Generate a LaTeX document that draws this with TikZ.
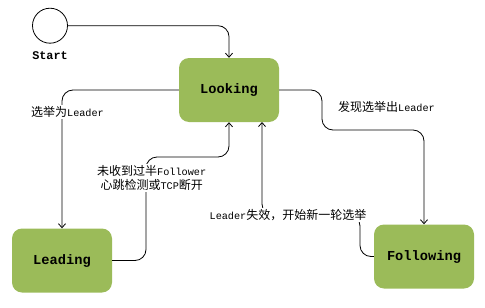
\documentclass[tikz,border=0pt]{standalone}
\usepackage{fontspec}
\setmainfont{Liberation Mono}
\newfontfamily\cjk{Noto Sans CJK SC}
\newfontfamily\mono{Liberation Mono}
\usetikzlibrary{arrows.meta}
\definecolor{stategreen}{RGB}{155,187,89}
\tikzset{
  statebox/.style={fill=stategreen, rounded corners=10pt, minimum width=100pt, minimum height=64pt, inner sep=0pt, font=\mono\bfseries\fontsize{13.7}{16}\selectfont},
  conn/.style={draw=black, line width=0.8pt, rounded corners=11pt, -{Straight Barb[length=4pt,width=7pt]}},
  lbl/.style={inner sep=1pt, font=\fontsize{10.2}{14.3}\selectfont, align=center},
  lblw/.style={lbl, fill=white},
}
\newcommand{\zh}[1]{{\cjk\fontsize{12}{14.3}\selectfont #1}}
\begin{document}
\begin{tikzpicture}[x=1pt,y=-1pt]
\useasboundingbox (0,0) rectangle (485,308);
\node[circle, draw=black, line width=0.8pt, minimum size=35pt, inner sep=0pt] (start) at (50,25.7) {};
\node[font=\mono\bfseries\fontsize{11.8}{14}\selectfont] (startlbl) at (50,55.7) {Start};
\node[statebox] (looking) at (229,90) {Looking};
\node[statebox] (leading) at (62,260.5) {Leading};
\node[statebox] (following) at (424,256.5) {Following};
\coordinate (c1) at (229,25.7);
\draw[conn] (start.east) -- (c1) -- (looking.north);
% Looking -> Leading
\coordinate (c2) at (62,90);
\draw[conn] (looking.west) -- (c2) -- (leading.north);
\node[lblw] (l1) at (67.5,112) {\zh{选举为}Leader};
% Looking -> Following
\coordinate (c3) at (322,90);
\coordinate (c4) at (322,130);
\coordinate (c5) at (424,130);
\draw[conn] (looking.east) -- (c3) -- (c4) -- (c5) -- (following.north);
\node[lbl] (l2) at (386.5,107) {\zh{发现选举出}Leader};
% Leading -> Looking
\coordinate (c6) at (146,260.5);
\coordinate (c7) at (146,157);
\coordinate (c8) at (229,157);
\draw[conn] (leading.east) -- (c6) -- (c7) -- (c8) -- (looking.south);
\node[lblw] (l3) at (151.7,178) {\zh{未收到过半}Follower\\\zh{心跳检测或}TCP\zh{断开}};
% Following -> Looking
\coordinate (c9) at (360,256.5);
\coordinate (c10) at (360,215);
\coordinate (c11) at (262,215);
\coordinate (c12) at (262,122);
\draw[conn] (following.west) -- (c9) -- (c10) -- (c11) -- (c12);
\node[lblw] (l4) at (288,215) {Leader\zh{失效，开始新一轮选举}};
\end{tikzpicture}
\end{document}
